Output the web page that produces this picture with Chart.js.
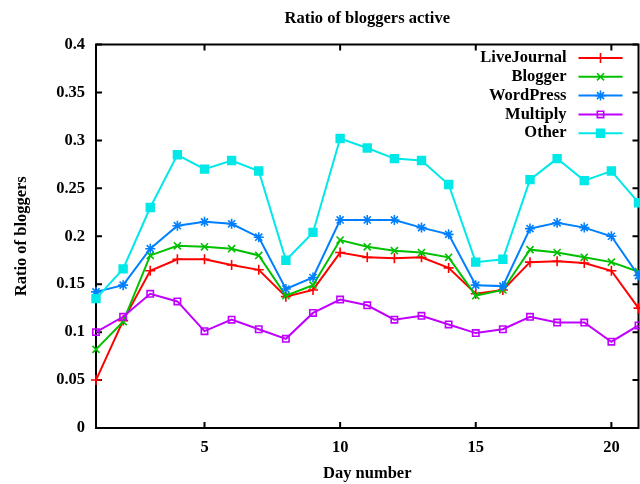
<!DOCTYPE html>
<html>
<head>
<meta charset="utf-8">
<title>Ratio of bloggers active</title>
<script src="https://cdn.jsdelivr.net/npm/chart.js@4/dist/chart.umd.min.js"></script>
<style>
    html, body { margin: 0; padding: 0; background: #fff; }
    #wrap { width: 640px; height: 484px; }
</style>
</head>
<body>
<div id="wrap"><canvas id="bloggerChart"></canvas></div>
<script>
// Data
const days = [1, 2, 3, 4, 5, 6, 7, 8, 9, 10, 11, 12, 13, 14, 15, 16, 17, 18, 19, 20, 21];
const xTicks = [5, 10, 15, 20];
const yTicks = [0, 0.05, 0.1, 0.15, 0.2, 0.25, 0.3, 0.35, 0.4];
const yTickLabels = ['0', '0.05', '0.1', '0.15', '0.2', '0.25', '0.3', '0.35', '0.4'];

const seriesNames = ['LiveJournal', 'Blogger', 'WordPress', 'Multiply', 'Other'];
const liveJournal = [0.050, 0.112, 0.164, 0.176, 0.176, 0.170, 0.165, 0.137, 0.144, 0.183, 0.178,
    0.177, 0.178, 0.167, 0.140, 0.144, 0.173, 0.174, 0.172, 0.164, 0.125];
const blogger = [0.082, 0.111, 0.180, 0.190, 0.189, 0.187, 0.180, 0.138, 0.149, 0.196, 0.189,
    0.185, 0.183, 0.178, 0.138, 0.144, 0.186, 0.183, 0.178, 0.173, 0.163];
const wordPress = [0.142, 0.149, 0.187, 0.211, 0.215, 0.213, 0.199, 0.145, 0.157, 0.217, 0.217,
    0.217, 0.209, 0.202, 0.149, 0.148, 0.208, 0.214, 0.209, 0.200, 0.159];
const multiply = [0.100, 0.116, 0.140, 0.132, 0.101, 0.113, 0.103, 0.093, 0.120, 0.134, 0.128,
    0.113, 0.117, 0.108, 0.099, 0.103, 0.116, 0.110, 0.110, 0.090, 0.107];
const other = [0.135, 0.166, 0.230, 0.285, 0.270, 0.279, 0.268, 0.175, 0.204, 0.302, 0.292,
    0.281, 0.279, 0.254, 0.173, 0.176, 0.259, 0.281, 0.258, 0.268, 0.235];

const seriesValues = [liveJournal, blogger, wordPress, multiply, other];
const seriesColors = ['#ff0000', '#00c000', '#0080ff', '#c000ff', '#00e8e8'];
const seriesPoints = ['cross', 'crossRot', 'star', 'rect', 'rect'];
const seriesFilled = [false, false, false, false, true];

const fontFamily = "'Liberation Serif', 'DejaVu Serif', serif";
Chart.defaults.font.family = fontFamily;
Chart.defaults.font.size = 16.5;
Chart.defaults.font.weight = 'bold';
Chart.defaults.color = '#000';

const datasets = seriesNames.map(function (name, i) {
    return {
        label: name,
        data: days.map(function (d, j) { return { x: d, y: seriesValues[i][j] }; }),
        borderColor: seriesColors[i],
        backgroundColor: seriesColors[i],
        borderWidth: 2,
        pointStyle: seriesPoints[i],
        pointRadius: seriesPoints[i] === 'rect' ? (seriesFilled[i] ? 5.5 : 4.5) : 5,
        pointBorderWidth: 1.6,
        pointBackgroundColor: seriesFilled[i] ? seriesColors[i] : 'rgba(255,255,255,0)',
        pointBorderColor: seriesColors[i],
        tension: 0,
        clip: false,
        order: seriesNames.length - i // later series on top
    };
});

// Frame with inward ticks on all four sides
const framePlugin = {
    id: 'framePlugin',
    beforeDatasetsDraw(chart) {
        const ctx = chart.ctx;
        const a = chart.chartArea;
        const xs = chart.scales.x, ys = chart.scales.y;
        const len = 6;
        ctx.save();
        ctx.strokeStyle = '#000';
        ctx.lineWidth = 2;
        ctx.strokeRect(a.left, a.top, a.right - a.left, a.bottom - a.top);
        ctx.beginPath();
        xTicks.forEach(function (v) {
            const px = xs.getPixelForValue(v);
            ctx.moveTo(px, a.bottom); ctx.lineTo(px, a.bottom - len);
            ctx.moveTo(px, a.top); ctx.lineTo(px, a.top + len);
        });
        yTicks.forEach(function (v) {
            const py = ys.getPixelForValue(v);
            ctx.moveTo(a.left, py); ctx.lineTo(a.left + len, py);
            ctx.moveTo(a.right, py); ctx.lineTo(a.right - len, py);
        });
        ctx.stroke();
        ctx.restore();
    }
};

// Legend inside the top right corner, text right aligned
const legendPlugin = {
    id: 'legendPlugin',
    afterDraw(chart) {
        const ctx = chart.ctx;
        const a = chart.chartArea;
        const lineEnd = a.right - 16;
        const lineStart = lineEnd - 44;
        const textRight = lineStart - 12;
        ctx.save();
        ctx.font = 'bold 16.5px ' + fontFamily;
        ctx.textAlign = 'right';
        ctx.textBaseline = 'middle';
        chart.data.datasets.forEach(function (ds, i) {
            const y = a.top + 13.5 + i * 18.8;
            ctx.fillStyle = '#000';
            ctx.fillText(ds.label, textRight, y);
            ctx.strokeStyle = ds.borderColor;
            ctx.lineWidth = 2;
            ctx.beginPath();
            ctx.moveTo(lineStart, y);
            ctx.lineTo(lineEnd, y);
            ctx.stroke();
            ctx.fillStyle = ds.pointBackgroundColor;
            ctx.strokeStyle = ds.pointBorderColor;
            ctx.lineWidth = ds.pointBorderWidth;
            Chart.helpers.drawPoint(ctx, {
                pointStyle: ds.pointStyle,
                radius: ds.pointRadius,
                rotation: 0,
                borderWidth: ds.pointBorderWidth
            }, (lineStart + lineEnd) / 2, y);
        });
        ctx.restore();
    }
};

const ctx = document.getElementById('bloggerChart').getContext('2d');
const bloggerChart = new Chart(ctx, {
    type: 'line',
    data: { datasets: datasets },
    options: {
        responsive: true,
        maintainAspectRatio: false,
        animation: false,
        layout: { autoPadding: false, padding: { top: 0, right: 1.5, bottom: 0, left: 0 } },
        plugins: {
            legend: { display: false },
            tooltip: { enabled: false },
            title: {
                display: true,
                text: 'Ratio of bloggers active',
                fullSize: false,
                color: '#000',
                font: { size: 16.5, weight: 'bold' },
                padding: { top: 8.5, bottom: 16.2 }
            }
        },
        scales: {
            x: {
                type: 'linear',
                min: 1,
                max: 21,
                afterBuildTicks: function (s) { s.ticks = xTicks.map(function (v) { return { value: v }; }); },
                afterFit: function (s) { s.height = 56; s.paddingLeft = 0; s.paddingRight = 0; },
                grid: { display: false, drawTicks: false },
                border: { display: false },
                ticks: { padding: 10, maxRotation: 0, color: '#000' },
                title: { display: true, text: 'Day number', color: '#000', padding: { top: 0, bottom: 0 } }
            },
            y: {
                type: 'linear',
                min: 0,
                max: 0.4,
                afterBuildTicks: function (s) { s.ticks = yTicks.map(function (v) { return { value: v }; }); },
                afterFit: function (s) { s.width = 96; },
                grid: { display: false, drawTicks: false },
                border: { display: false },
                ticks: {
                    padding: 11,
                    color: '#000',
                    callback: function (v, i) { return yTickLabels[i]; }
                },
                title: { display: true, text: 'Ratio of bloggers', color: '#000', padding: { top: 12, bottom: 0 } }
            }
        }
    },
    plugins: [framePlugin, legendPlugin]
});
</script>
</body>
</html>
